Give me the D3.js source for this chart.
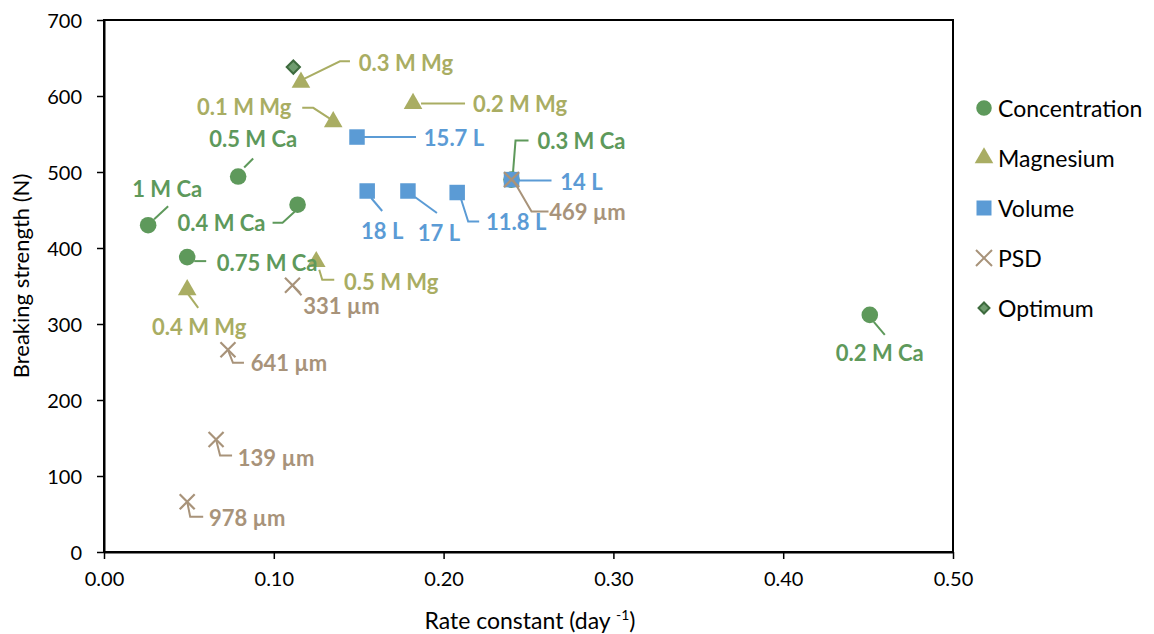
<!DOCTYPE html>
<html>
<head>
<meta charset="utf-8">
<script src="https://cdn.jsdelivr.net/npm/d3@7"></script>
<style>
  body { margin: 0; background: #fff; }
  text { font-family: Lato, "Open Sans", sans-serif; }
</style>
</head>
<body>
<svg id="chart" width="1154" height="634"></svg>
<script>
// series data
var concLabels = ["1 M Ca", "0.5 M Ca", "0.4 M Ca", "0.75 M Ca", "0.3 M Ca", "0.2 M Ca"];
var concX = [0.026, 0.079, 0.114, 0.049, 0.240, 0.451];
var concY = [430, 494, 457, 388, 490, 312];

var mgLabels = ["0.3 M Mg", "0.1 M Mg", "0.2 M Mg", "0.5 M Mg", "0.4 M Mg"];
var mgX = [0.116, 0.135, 0.182, 0.125, 0.049];
var mgY = [618, 566, 590, 382, 345];

var volLabels = ["15.7 L", "18 L", "17 L", "11.8 L", "14 L"];
var volX = [0.149, 0.155, 0.179, 0.208, 0.240];
var volY = [546, 475, 475, 473, 490];

var psdLabels = ["331 µm", "641 µm", "139 µm", "978 µm", "469 µm"];
var psdX = [0.111, 0.073, 0.066, 0.049, 0.240];
var psdY = [351, 266, 148, 66, 490];

var optX = [0.1115];
var optY = [638];

var xTicks = [0, 0.1, 0.2, 0.3, 0.4, 0.5];
var yTicks = [0, 100, 200, 300, 400, 500, 600, 700];

var legendNames = ["Concentration", "Magnesium", "Volume", "PSD", "Optimum"];

// label placement (offset of text centre and leader line, relative to the marker)
var labelPos = {
  "1 M Ca":   {dx: 19, dy: -37, line: [[20,-19],[6,-6]]},
  "0.5 M Ca": {dx: 15, dy: -38, line: [[15,-18],[6,-9]]},
  "0.4 M Ca": {dx: -76, dy: 18, line: [[-25,18],[-15,18],[-3,7]]},
  "0.75 M Ca":{dx: 80, dy: 5, line: [[7,4],[19,4]]},
  "0.3 M Ca": {dx: 70, dy: -39, line: [[1,-1],[4,-39],[17,-39]]},
  "0.2 M Ca": {dx: 10, dy: 38, line: [[4,7],[15,20]]},
  "0.3 M Mg": {dx: 105, dy: -20, line: [[2,-3],[39,-21],[49,-21]]},
  "0.1 M Mg": {dx: -89, dy: -15, line: [[-31,-14],[-20,-14],[-3,-3]]},
  "0.2 M Mg": {dx: 107, dy: 0, line: [[8,0],[52,0]]},
  "0.5 M Mg": {dx: 75, dy: 20, line: [[3,8],[6,18],[18,18]]},
  "0.4 M Mg": {dx: 12, dy: 37, line: [[0,3],[11,18]]},
  "15.7 L":   {dx: 97, dy: 0, line: [[7,0],[59,0]]},
  "18 L":     {dx: 15, dy: 39, line: [[4,7],[15,20]]},
  "17 L":     {dx: 31, dy: 41, line: [[7,6],[29,22]]},
  "11.8 L":   {dx: 59, dy: 29, line: [[4,7],[11,29],[22,29]]},
  "14 L":     {dx: 70, dy: 2, line: [[5,1],[40,1]]},
  "331 µm":   {dx: 49, dy: 20, line: [[0,0],[9,10]]},
  "641 µm":   {dx: 61, dy: 13, line: [[0,0],[5,13],[16,13]]},
  "139 µm":   {dx: 60, dy: 18, line: [[0,0],[4,16],[16,16]]},
  "978 µm":   {dx: 60, dy: 16, line: [[0,0],[3,15],[16,15]]},
  "469 µm":   {dx: 76, dy: 32, line: [[2,1],[20,32],[37,32]]}
};

var colConc = "#5E995B";
var colMg = "#A9AD63";
var colVol = "#5B9BD5";
var colPsd = "#A8937A";
var colOptStroke = "#3E6B3E";
var colOptFill = "#6F9C6F";

var plotLeft = 104, plotRight = 953, plotTop = 20, plotBottom = 552;

var svg = d3.select("#chart");

var x = d3.scaleLinear().domain([0, 0.5]).range([plotLeft, plotRight]);
var y = d3.scaleLinear().domain([0, 700]).range([plotBottom, plotTop]);

// plot frame
svg.append("rect")
  .attr("x", plotLeft).attr("y", plotTop)
  .attr("width", plotRight - plotLeft).attr("height", plotBottom - plotTop)
  .attr("fill", "none").attr("stroke", "#000").attr("stroke-width", 2);

// axes
var xAxis = svg.append("g")
  .attr("transform", "translate(0," + plotBottom + ")")
  .call(d3.axisBottom(x).tickValues(xTicks).tickSize(7).tickSizeOuter(0)
    .tickFormat(d3.format(".2f")));
var yAxis = svg.append("g")
  .attr("transform", "translate(" + plotLeft + ",0)")
  .call(d3.axisLeft(y).tickValues(yTicks).tickSize(7).tickSizeOuter(0));

[xAxis, yAxis].forEach(function(a) {
  a.select(".domain").attr("stroke", "#000").attr("stroke-width", 2);
  a.selectAll(".tick line").attr("stroke", "#000").attr("stroke-width", 1.5);
  a.selectAll(".tick text")
    .attr("fill", "#000")
    .style("font-family", "Lato, sans-serif")
    .style("font-size", "20px");
});
xAxis.selectAll(".tick text").attr("dy", "0").attr("y", 34);
yAxis.selectAll(".tick text").attr("x", -22).attr("dy", "0.35em");

// axis titles
var xt = svg.append("text")
  .attr("x", 530).attr("y", 629)
  .attr("text-anchor", "middle")
  .style("font-size", "23px").attr("fill", "#000");
xt.append("tspan").text("Rate constant (day ");
xt.append("tspan").text("-1").style("font-size", "14px").attr("dy", -9);
xt.append("tspan").text(")").attr("dy", 9);

svg.append("text")
  .attr("transform", "translate(29,276) rotate(-90)")
  .attr("text-anchor", "middle")
  .style("font-size", "22px").attr("fill", "#000")
  .text("Breaking strength (N)");

function rows(labels, xs, ys) {
  return labels.map(function(l, i) { return {label: l, x: xs[i], y: ys[i]}; });
}

var concData = rows(concLabels, concX, concY);
var mgData = rows(mgLabels, mgX, mgY);
var volData = rows(volLabels, volX, volY);
var psdData = rows(psdLabels, psdX, psdY);
var optData = rows([""], optX, optY);

var circleSym = d3.symbol().type(d3.symbolCircle).size(216);
var triSym = d3.symbol().type(d3.symbolTriangle).size(150);
var squareSym = d3.symbol().type(d3.symbolSquare).size(240);
var diamondSym = d3.symbol().type(d3.symbolSquare).size(88);

function drawLeaders(data, colour) {
  svg.append("g").selectAll("path")
    .data(data)
    .enter()
    .append("path")
    .attr("d", function(d) {
      var p = labelPos[d.label].line;
      return d3.line()(p.map(function(q) { return [x(d.x) + q[0], y(d.y) + q[1]]; }));
    })
    .attr("fill", "none")
    .attr("stroke", colour)
    .attr("stroke-width", 2);
}

function drawLabels(data, colour) {
  svg.append("g").selectAll("text")
    .data(data)
    .enter()
    .append("text")
    .attr("x", function(d) { return x(d.x) + labelPos[d.label].dx; })
    .attr("y", function(d) { return y(d.y) + labelPos[d.label].dy; })
    .attr("text-anchor", "middle")
    .attr("dominant-baseline", "central")
    .attr("fill", colour)
    .style("font-size", "22px")
    .style("font-weight", "bold")
    .text(function(d) { return d.label; });
}

function drawSymbols(data, sym, colour, rot) {
  svg.append("g").selectAll("path")
    .data(data)
    .enter()
    .append("path")
    .attr("d", sym)
    .attr("transform", function(d) {
      return "translate(" + x(d.x) + "," + y(d.y) + ")" + (rot ? " rotate(" + rot + ")" : "");
    })
    .attr("fill", colour);
}

function drawCrosses(data, colour) {
  var s = 7.5;
  svg.append("g").selectAll("path")
    .data(data)
    .enter()
    .append("path")
    .attr("d", "M" + (-s) + "," + (-s) + "L" + s + "," + s + "M" + (-s) + "," + s + "L" + s + "," + (-s))
    .attr("transform", function(d) { return "translate(" + x(d.x) + "," + y(d.y) + ")"; })
    .attr("stroke", colour)
    .attr("stroke-width", 2.2)
    .attr("fill", "none");
}

// draw in series order
drawLeaders(concData, colConc);
drawSymbols(concData, circleSym, colConc);
drawLeaders(mgData, colMg);
drawSymbols(mgData, triSym, colMg);
drawLeaders(volData, colVol);
drawSymbols(volData, squareSym, colVol);
drawLeaders(psdData, colPsd);
drawCrosses(psdData, colPsd);

svg.append("g").selectAll("path")
  .data(optData)
  .enter()
  .append("path")
  .attr("d", diamondSym)
  .attr("transform", function(d) { return "translate(" + x(d.x) + "," + y(d.y) + ") rotate(45)"; })
  .attr("fill", colOptFill)
  .attr("stroke", colOptStroke)
  .attr("stroke-width", 2);

drawLabels(concData, colConc);
drawLabels(mgData, colMg);
drawLabels(volData, colVol);
drawLabels(psdData, colPsd);

// legend
var legend = svg.append("g").selectAll("g")
  .data(legendNames)
  .enter()
  .append("g")
  .attr("transform", function(d, i) { return "translate(984," + (108 + i * 50) + ")"; });

legend.append("text")
  .attr("x", 14)
  .attr("dominant-baseline", "central")
  .attr("fill", "#000")
  .style("font-size", "23px")
  .text(function(d) { return d; });

legend.each(function(d, i) {
  var g = d3.select(this);
  if (i == 0) g.append("path").attr("d", d3.symbol().type(d3.symbolCircle).size(190)).attr("fill", colConc);
  if (i == 1) g.append("path").attr("d", d3.symbol().type(d3.symbolTriangle).size(150)).attr("fill", colMg);
  if (i == 2) g.append("path").attr("d", d3.symbol().type(d3.symbolSquare).size(225)).attr("fill", colVol);
  if (i == 3) g.append("path").attr("d", "M-8,-8L8,8M-8,8L8,-8").attr("stroke", colPsd).attr("stroke-width", 2);
  if (i == 4) g.append("path").attr("d", d3.symbol().type(d3.symbolSquare).size(60))
    .attr("transform", "rotate(45)").attr("fill", colOptFill).attr("stroke", colOptStroke).attr("stroke-width", 2);
});
</script>
</body>
</html>
